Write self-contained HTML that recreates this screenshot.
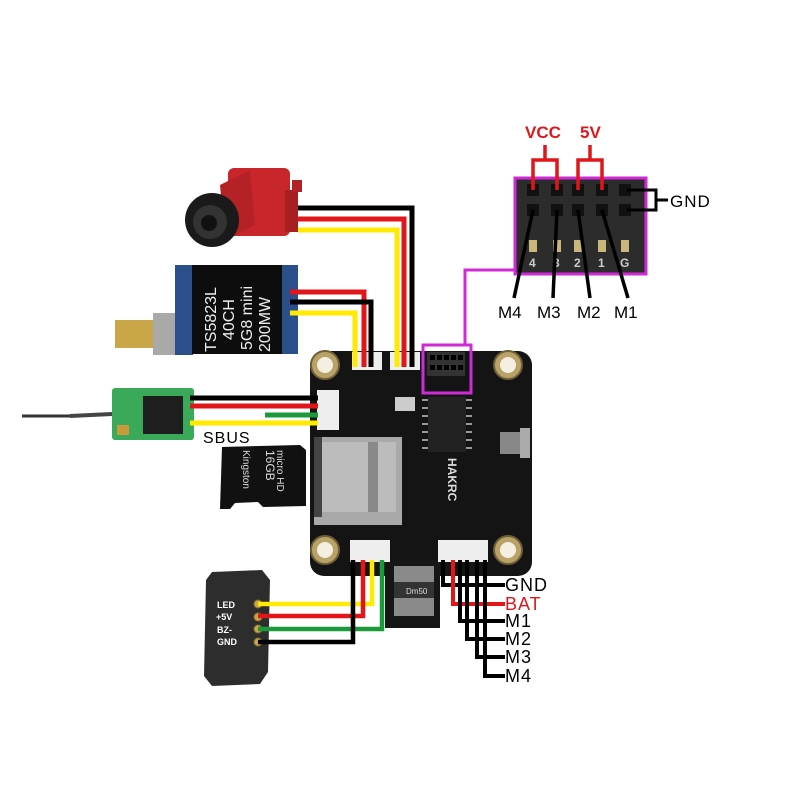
<!DOCTYPE html>
<html><head><meta charset="utf-8"><style>
html,body{margin:0;padding:0;background:#fff;}
svg{display:block}
text{font-family:"Liberation Sans","DejaVu Sans",sans-serif;}
</style></head><body>
<svg width="800" height="800" viewBox="0 0 800 800" xmlns="http://www.w3.org/2000/svg">
<rect width="800" height="800" fill="#fff"/>

<!-- main board -->
<rect x="310" y="351" width="222" height="225" rx="14" fill="#141414"/>
<rect x="385" y="560" width="55" height="68" fill="#161616"/>
<rect x="394" y="566" width="40" height="50" fill="#8a8a8a"/>
<rect x="394" y="582" width="40" height="16" fill="#333"/>
<text x="406" y="594" font-size="8" fill="#ddd">Dm50</text>
<g fill="#b8a268" stroke="#6e5f36" stroke-width="2">
<circle cx="325" cy="365" r="14"/><circle cx="508" cy="365" r="14"/>
<circle cx="325" cy="550" r="14"/><circle cx="508" cy="550" r="14"/>
</g>
<g fill="#f4efe0"><circle cx="325" cy="365" r="8"/><circle cx="508" cy="365" r="8"/><circle cx="325" cy="550" r="8"/><circle cx="508" cy="550" r="8"/></g>
<rect x="314" y="437" width="88" height="88" fill="#a9a9a9"/>
<rect x="320" y="442" width="76" height="70" fill="#bcbcbc"/>
<rect x="368" y="442" width="10" height="70" fill="#555" opacity="0.5"/>
<rect x="314" y="437" width="8" height="80" fill="#444"/>
<rect x="428" y="397" width="38" height="55" fill="#222"/>
<g stroke="#999" stroke-width="2">
<line x1="422" y1="400" x2="428" y2="400"/><line x1="422" y1="408" x2="428" y2="408"/><line x1="422" y1="416" x2="428" y2="416"/><line x1="422" y1="424" x2="428" y2="424"/><line x1="422" y1="432" x2="428" y2="432"/><line x1="422" y1="440" x2="428" y2="440"/><line x1="422" y1="448" x2="428" y2="448"/>
<line x1="466" y1="400" x2="472" y2="400"/><line x1="466" y1="408" x2="472" y2="408"/><line x1="466" y1="416" x2="472" y2="416"/><line x1="466" y1="424" x2="472" y2="424"/><line x1="466" y1="432" x2="472" y2="432"/><line x1="466" y1="440" x2="472" y2="440"/><line x1="466" y1="448" x2="472" y2="448"/>
</g>
<rect x="395" y="397" width="20" height="14" fill="#ccc"/>
<rect x="500" y="432" width="20" height="22" fill="#888"/>
<rect x="520" y="428" width="10" height="30" fill="#aaa"/>
<text x="0" y="0" font-size="12" fill="#ddd" transform="translate(448,458) rotate(90)" font-weight="bold">HAKRC</text>
<rect x="352" y="352" width="30" height="18" fill="#eee"/>
<rect x="390" y="352" width="30" height="18" fill="#eee"/>
<rect x="317" y="390" width="22" height="40" fill="#eee"/>
<rect x="350" y="540" width="40" height="22" fill="#eee"/>
<rect x="438" y="540" width="50" height="22" fill="#eee"/>
<rect x="427" y="352" width="38" height="24" fill="#333"/>
<g fill="#000">
<rect x="430" y="355" width="5" height="5"/><rect x="437" y="355" width="5" height="5"/><rect x="444" y="355" width="5" height="5"/><rect x="451" y="355" width="5" height="5"/><rect x="458" y="355" width="5" height="5"/>
<rect x="430" y="365" width="5" height="5"/><rect x="437" y="365" width="5" height="5"/><rect x="444" y="365" width="5" height="5"/><rect x="451" y="365" width="5" height="5"/><rect x="458" y="365" width="5" height="5"/>
</g>
<rect x="423" y="345" width="48" height="48" fill="none" stroke="#d02ad6" stroke-width="3"/>
<polyline points="465,345 465,270 515,270" fill="none" stroke="#d02ad6" stroke-width="3"/>

<rect x="515" y="178" width="131" height="96" fill="#2c2c2c" stroke="#d02ad6" stroke-width="3"/>
<g fill="#111">
<rect x="527" y="184" width="12" height="12"/><rect x="551" y="184" width="12" height="12"/><rect x="572" y="184" width="12" height="12"/><rect x="596" y="184" width="12" height="12"/><rect x="619" y="184" width="12" height="12"/>
<rect x="527" y="204" width="12" height="12"/><rect x="551" y="204" width="12" height="12"/><rect x="572" y="204" width="12" height="12"/><rect x="596" y="204" width="12" height="12"/><rect x="619" y="204" width="12" height="12"/>
</g>
<g fill="#c9b67a"><rect x="529" y="240" width="8" height="12"/><rect x="553" y="240" width="8" height="12"/><rect x="574" y="240" width="8" height="12"/><rect x="598" y="240" width="8" height="12"/><rect x="621" y="240" width="8" height="12"/></g>
<g font-size="12" fill="#ccc" font-weight="bold"><text x="529" y="267">4</text><text x="553" y="267">3</text><text x="574" y="267">2</text><text x="598" y="267">1</text><text x="620" y="267">G</text></g>
<g stroke="#e0161a" stroke-width="3.5" fill="none">
<polyline points="533,190 533,160 557,160 557,190"/><line x1="545" y1="160" x2="545" y2="145"/>
<polyline points="578,190 578,160 602,160 602,190"/><line x1="590" y1="160" x2="590" y2="145"/>
</g>
<text x="525" y="138" font-size="17" font-weight="bold" fill="#e0161a">VCC</text>
<text x="580" y="138" font-size="17" font-weight="bold" fill="#e0161a">5V</text>
<polyline points="627,190 656,190 656,210 627,210" fill="none" stroke="#000" stroke-width="3"/>
<line x1="656" y1="200" x2="668" y2="200" stroke="#000" stroke-width="3"/>
<text x="670" y="207" font-size="17" fill="#000" letter-spacing="1">GND</text>
<g stroke="#000" stroke-width="3.5">
<line x1="533" y1="210" x2="514" y2="298"/><line x1="557" y1="210" x2="553" y2="298"/>
<line x1="578" y1="210" x2="590" y2="298"/><line x1="602" y1="210" x2="628" y2="298"/>
</g>
<g font-size="17" fill="#000"><text x="498" y="318">M4</text><text x="537" y="318">M3</text><text x="577" y="318">M2</text><text x="614" y="318">M1</text></g>

<rect x="228" y="168" width="62" height="68" rx="6" fill="#c8262a"/>
<rect x="285" y="190" width="13" height="42" fill="#a81f22"/>
<rect x="292" y="180" width="10" height="12" fill="#b02225"/>
<polygon points="220,185 250,170 255,225 225,240" fill="#b52226"/>
<ellipse cx="212" cy="220" rx="27" ry="27" fill="#1a1a1a"/>
<ellipse cx="210" cy="222" rx="17" ry="17" fill="#333"/>
<ellipse cx="209" cy="223" rx="8" ry="8" fill="#111"/>
<g fill="none" stroke-width="5">
<polyline points="298,208 412,208 412,367" stroke="#000"/>
<polyline points="298,219 404,219 404,367" stroke="#e0161a"/>
<polyline points="298,230 397,230 397,367" stroke="#ffea00"/>
</g>

<rect x="115" y="320" width="38" height="28" fill="#c9a648"/>
<rect x="153" y="313" width="24" height="42" fill="#a9a9a9"/>
<rect x="175" y="265" width="18" height="90" fill="#2a4f8a"/>
<rect x="192" y="265" width="90" height="89" fill="#0d0d0d"/>
<rect x="282" y="265" width="16" height="89" fill="#2a4f8a"/>
<g font-size="16" fill="#eee" transform="translate(200,352) rotate(-90)">
<text x="0" y="16">TS5823L</text><text x="12" y="34">40CH</text><text x="2" y="52">5G8 mini</text><text x="0" y="70">200MW</text>
</g>
<g fill="none" stroke-width="5">
<polyline points="290,292 364,292 364,367" stroke="#e0161a"/>
<polyline points="290,302 371,302 371,367" stroke="#000"/>
<polyline points="290,313 355,313 355,367" stroke="#ffea00"/>
</g>

<line x1="22" y1="416" x2="70" y2="416" stroke="#333" stroke-width="3"/>
<line x1="70" y1="416" x2="112" y2="414" stroke="#444" stroke-width="4"/>
<rect x="112" y="388" width="82" height="52" rx="3" fill="#3aa95a"/>
<rect x="143" y="396" width="40" height="38" fill="#1e1e1e"/>
<rect x="117" y="425" width="12" height="10" fill="#c89a3a"/>
<g stroke-width="5">
<line x1="190" y1="398" x2="318" y2="398" stroke="#000"/>
<line x1="190" y1="406" x2="318" y2="406" stroke="#e0161a"/>
<line x1="265" y1="415" x2="318" y2="415" stroke="#1a9a3a"/>
<line x1="190" y1="423" x2="318" y2="423" stroke="#ffea00"/>
</g>
<text x="203" y="443" font-size="16" fill="#000" letter-spacing="1">SBUS</text>

<path d="M222 447 L300 445 L306 450 L306 506 L263 507 L258 502 L235 503 L230 509 L220 509 Z" fill="#111"/>
<g font-size="10" fill="#ddd" transform="translate(265,450) rotate(90)">
<text x="0" y="-12">micro HD</text><text x="0" y="-1" font-size="12">16GB</text><text x="0" y="22">Kingston</text>
</g>

<path d="M212 572 L262 570 L270 580 L268 672 L260 684 L212 686 L204 676 L206 580 Z" fill="#2d2d2d"/>
<g font-size="9" fill="#fff" font-weight="bold"><text x="217" y="608">LED</text><text x="216" y="620">+5V</text><text x="217" y="633">BZ-</text><text x="217" y="645">GND</text></g>
<g fill="#c9a648" stroke="#8a6d2a"><circle cx="258" cy="604" r="4"/><circle cx="258" cy="617" r="4"/><circle cx="258" cy="629" r="4"/><circle cx="258" cy="642" r="4"/></g>
<g fill="none" stroke-width="4.5">
<polyline points="372,560 372,604 258,604" stroke="#ffea00"/>
<polyline points="363,560 363,616 258,616" stroke="#e0161a"/>
<polyline points="382,560 382,629 258,629" stroke="#1a9a3a"/>
<polyline points="353,560 353,642 258,642" stroke="#000"/>
</g>

<g fill="none" stroke-width="4">
<polyline points="443,560 443,585 505,585" stroke="#000"/>
<polyline points="453,560 453,604 505,604" stroke="#e0161a"/>
<polyline points="460,560 460,621 505,621" stroke="#000"/>
<polyline points="467,560 467,639 505,639" stroke="#000"/>
<polyline points="477,560 477,657 505,657" stroke="#000"/>
<polyline points="485,560 485,676 505,676" stroke="#000"/>
</g>
<g font-size="18" fill="#000" letter-spacing="1">
<text x="505" y="591">GND</text><text x="505" y="610" fill="#e0161a">BAT</text>
<text x="505" y="627">M1</text><text x="505" y="645">M2</text><text x="505" y="663">M3</text><text x="505" y="682">M4</text>
</g>
</svg>
</body></html>
